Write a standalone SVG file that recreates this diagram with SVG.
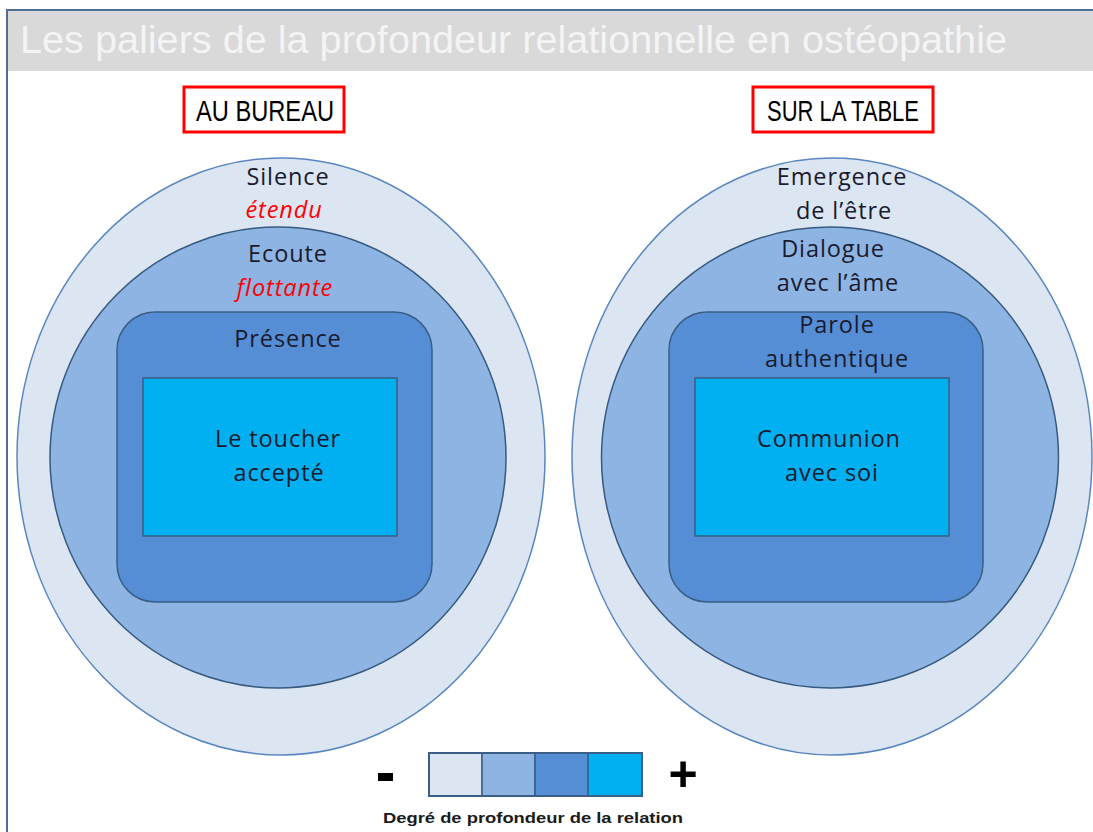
<svg xmlns="http://www.w3.org/2000/svg" width="1093" height="832" viewBox="0 0 1093 832">
  <style>
    .lvl1 { fill: #DCE6F2; stroke: #5A86C0; stroke-width: 1.5; }
    .lvl2 { fill: #8EB4E3; stroke: #36597F; stroke-width: 1.5; }
    .lvl3 { fill: #558ED5; stroke: #3A5E86; stroke-width: 1.5; }
    .lvl4 { fill: #00B0F0; stroke: #3A5E86; stroke-width: 1.5; }
    .lbl { font-family: "Open Sans", "Liberation Sans", sans-serif; font-size: 23.5px; fill: #1A1A2E; text-anchor: middle; letter-spacing: 0.9px; }
    .em { font-family: "Open Sans", "Liberation Sans", sans-serif; font-size: 23.5px; font-style: italic; fill: #FF0000; text-anchor: middle; letter-spacing: 0.9px; }
    .tag { font-family: "Liberation Sans", Arial, sans-serif; font-size: 29px; fill: #000000; text-anchor: middle; }
    .box { fill: #FFFFFF; stroke: #FF0000; stroke-width: 3; }
  </style>

  <!-- page frame and title band -->
  <rect x="0" y="0" width="1093" height="832" fill="#FFFFFF"/>
  <rect x="7" y="11" width="1090" height="60" fill="#D9D9D9"/>
  <path d="M7 832 V10 H1093" fill="none" stroke="#4F6D95" stroke-width="2"/>
  <text x="20" y="53" font-family="Liberation Sans, Arial, sans-serif" font-size="38" fill="#F4F4F4" textLength="987" lengthAdjust="spacingAndGlyphs">Les paliers de la profondeur relationnelle en ostéopathie</text>

  <!-- left stack: at the desk -->
  <g id="bureau-header">
    <rect class="box" x="184" y="87" width="160" height="45"/>
    <text class="tag" x="265" y="121" textLength="138" lengthAdjust="spacingAndGlyphs">AU BUREAU</text>
  </g>
  <g id="bureau-silence">
    <ellipse class="lvl1" cx="281" cy="456.5" rx="264" ry="298.5"/>
    <text class="lbl" x="288" y="185">Silence</text>
    <text class="em" x="284" y="218">étendu</text>
  </g>
  <g id="bureau-ecoute">
    <ellipse class="lvl2" cx="278" cy="457.5" rx="228" ry="230.5"/>
    <text class="lbl" x="288" y="262">Ecoute</text>
    <text class="em" x="285" y="296">flottante</text>
  </g>
  <g id="bureau-presence">
    <rect class="lvl3" x="117" y="312" width="315" height="290" rx="38" ry="38"/>
    <text class="lbl" x="288" y="347">Présence</text>
  </g>
  <g id="bureau-toucher">
    <rect class="lvl4" x="143" y="378" width="254" height="158"/>
    <text class="lbl" x="278" y="447">Le toucher</text>
    <text class="lbl" x="279" y="481">accepté</text>
  </g>

  <!-- right stack: on the table -->
  <g id="table-header">
    <rect class="box" x="753" y="87" width="180" height="45"/>
    <text class="tag" x="843" y="121" textLength="152" lengthAdjust="spacingAndGlyphs">SUR LA TABLE</text>
  </g>
  <g id="table-emergence">
    <ellipse class="lvl1" cx="832" cy="456.5" rx="260" ry="298.5"/>
    <text class="lbl" x="842" y="185">Emergence</text>
    <text class="lbl" x="844" y="219">de l’être</text>
  </g>
  <g id="table-dialogue">
    <ellipse class="lvl2" cx="830" cy="457.5" rx="228.5" ry="230.5"/>
    <text class="lbl" x="833" y="257">Dialogue</text>
    <text class="lbl" x="838" y="291">avec l’âme</text>
  </g>
  <g id="table-parole">
    <rect class="lvl3" x="669" y="312" width="314" height="290" rx="38" ry="38"/>
    <text class="lbl" x="837" y="333">Parole</text>
    <text class="lbl" x="837" y="367">authentique</text>
  </g>
  <g id="table-communion">
    <rect class="lvl4" x="695" y="378" width="254" height="158"/>
    <text class="lbl" x="829" y="447">Communion</text>
    <text class="lbl" x="832" y="481">avec soi</text>
  </g>

  <!-- depth scale -->
  <g id="legend">
    <rect class="lvl1" x="429" y="753" width="53" height="43"/>
    <rect class="lvl2" x="482" y="753" width="53" height="43"/>
    <rect class="lvl3" x="535" y="753" width="53" height="43"/>
    <rect class="lvl4" x="588" y="753" width="54" height="43"/>
    <rect x="429" y="753" width="213" height="43" fill="none" stroke="#3A5E86" stroke-width="2"/>
    <rect x="378" y="773" width="15" height="8" fill="#000000"/>
    <text x="683" y="791" font-family="Liberation Sans, Arial, sans-serif" font-size="50" font-weight="bold" fill="#000000" text-anchor="middle">+</text>
    <text x="533" y="823" font-family="Liberation Sans, Arial, sans-serif" font-size="15" font-weight="bold" fill="#1A1A1A" text-anchor="middle" textLength="300" lengthAdjust="spacingAndGlyphs">Degré  de profondeur de la relation</text>
  </g>
</svg>
